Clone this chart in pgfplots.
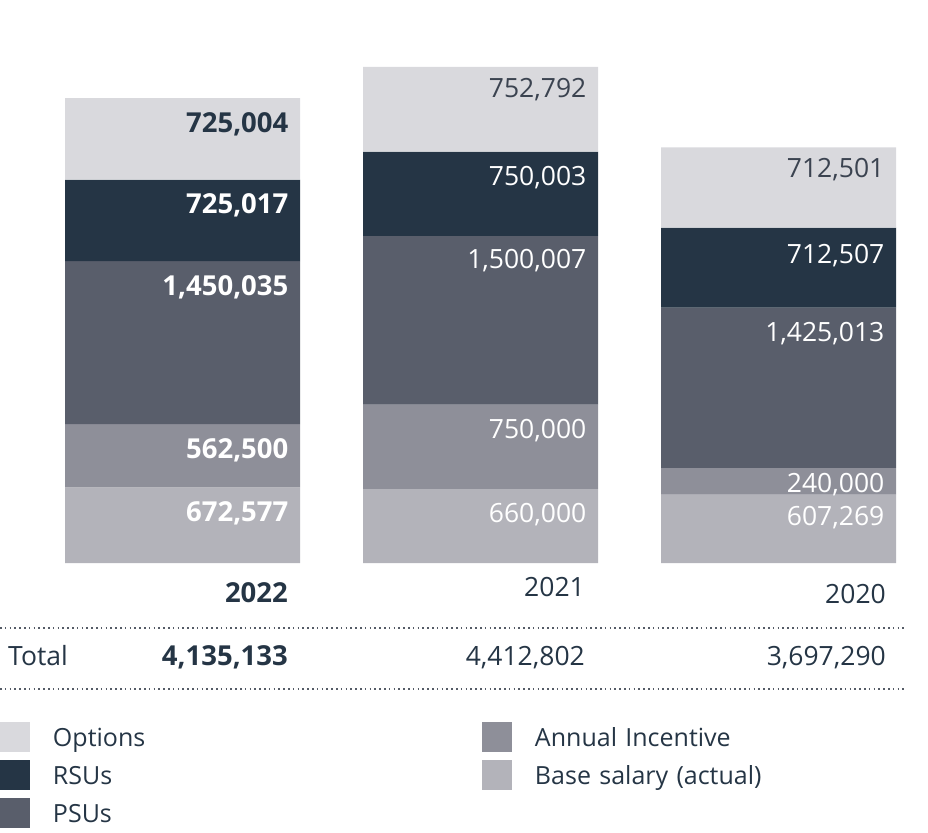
\documentclass[border=0pt]{standalone}
\usepackage{pgfplots}
\pgfplotsset{compat=1.18}
\usepackage{fontspec}
\setmainfont{Open Sans}
\definecolor{optc}{HTML}{D9D9DD}
\definecolor{rsuc}{HTML}{253545}
\definecolor{psuc}{HTML}{595E6B}
\definecolor{annc}{HTML}{8E8F99}
\definecolor{basc}{HTML}{B3B3BA}
\definecolor{txtc}{HTML}{253545}
\definecolor{optt}{HTML}{3B4350}
\definecolor{dotc}{HTML}{555B66}
\tikzset{
  fnt/.style={font=\fontsize{26.5pt}{31pt}\selectfont},
  fntb/.style={font=\fontsize{27.5pt}{32pt}\selectfont\bfseries},
  lbl/.style={anchor=base east, inner sep=0pt, xshift=106pt, yshift=-34pt},
}
\begin{document}
\begin{tikzpicture}
\path[use as bounding box] (0,0) rectangle (928pt,832pt);
\begin{axis}[
  at={(33.5pt,269pt)}, anchor=south west,
  scale only axis, width=894pt, height=505.8pt,
  xmin=-0.5, xmax=2.5, ymin=0, ymax=4500000,
  hide axis, clip=false,
  ybar stacked, reverse stacked plots=false, bar width=235pt,
  legend columns=2,
  legend image code/.code={\fill[#1] (0pt,-14pt) rectangle (30pt,16pt);},
  legend style={at={(-0.03747,-0.3144)}, anchor=north west, draw=none, fill=none,
    inner sep=0pt, outer sep=0pt, row sep=8pt,
    nodes={inner sep=0pt, text=txtc, font=\fontsize{25pt}{30pt}\selectfont, text width=429pt, align=left},
    /tikz/every odd column/.style={column sep=23pt}},
]
\addlegendimage{fill=optc, draw=none}\addlegendentry{Options}
\addlegendimage{fill=annc, draw=none}\addlegendentry{Annual Incentive}
\addlegendimage{fill=rsuc, draw=none}\addlegendentry{RSUs}
\addlegendimage{fill=basc, draw=none}\addlegendentry{Base salary (actual)}
\addlegendimage{fill=psuc, draw=none}\addlegendentry{PSUs}
\addplot[fill=basc, draw=none, forget plot] coordinates {(0,672577) (1,660000) (2,607269)};
\addplot[fill=annc, draw=none, forget plot] coordinates {(0,562500) (1,750000) (2,240000)};
\addplot[fill=psuc, draw=none, forget plot] coordinates {(0,1450035) (1,1500007) (2,1425013)};
\addplot[fill=rsuc, draw=none, forget plot] coordinates {(0,725017) (1,750003) (2,712507)};
\addplot[fill=optc, draw=none, forget plot] coordinates {(0,725004) (1,752792) (2,712501)};
% 2022 labels (bold)
\node[lbl, fntb, text=txtc] at (axis cs:0,4135133) {725,004};
\node[lbl, fntb, text=white] at (axis cs:0,3410129) {725,017};
\node[lbl, fntb, text=white] at (axis cs:0,2685112) {1,450,035};
\node[lbl, fntb, text=white] at (axis cs:0,1235077) {562,500};
\node[lbl, fntb, text=white] at (axis cs:0,672577) {672,577};
% 2021
\node[lbl, fnt, text=optt, yshift=3pt] at (axis cs:1,4412802) {752,792};
\node[lbl, fnt, text=white] at (axis cs:1,3660010) {750,003};
\node[lbl, fnt, text=white, yshift=1pt] at (axis cs:1,2910007) {1,500,007};
\node[lbl, fnt, text=white] at (axis cs:1,1410000) {750,000};
\node[lbl, fnt, text=white] at (axis cs:1,660000) {660,000};
% 2020
\node[lbl, fnt, text=optt, yshift=4pt] at (axis cs:2,3697290) {712,501};
\node[lbl, fnt, text=white, yshift=-2pt] at (axis cs:2,2984789) {712,507};
\node[lbl, fnt, text=white] at (axis cs:2,2272282) {1,425,013};
\node[lbl, fnt, text=white, yshift=9pt] at (axis cs:2,847269) {240,000};
\node[lbl, fnt, text=white, yshift=3pt] at (axis cs:2,607269) {607,269};
\end{axis}
% year labels
\node[anchor=base east, inner sep=0pt, text=txtc, fntb] at (288pt,229pt) {2022};
\node[anchor=base east, inner sep=0pt, text=txtc, fnt] at (585pt,235pt) {2021};
\node[anchor=base east, inner sep=0pt, text=txtc, fnt] at (886pt,228pt) {2020};
% dotted rules
\draw[dotc, line width=1.6pt, dash pattern=on 1.6pt off 3.2pt] (0pt,204pt) -- (907pt,204pt);
\draw[dotc, line width=1.6pt, dash pattern=on 1.6pt off 3.2pt] (0pt,143pt) -- (907pt,143pt);
% total row
\node[anchor=base west, inner sep=0pt, text=txtc, fnt] at (8pt,166pt) {Total};
\node[anchor=base east, inner sep=0pt, text=txtc, fntb] at (288pt,166pt) {4,135,133};
\node[anchor=base east, inner sep=0pt, text=txtc, fnt] at (585pt,166pt) {4,412,802};
\node[anchor=base east, inner sep=0pt, text=txtc, fnt] at (886pt,166pt) {3,697,290};
\end{tikzpicture}
\end{document}
